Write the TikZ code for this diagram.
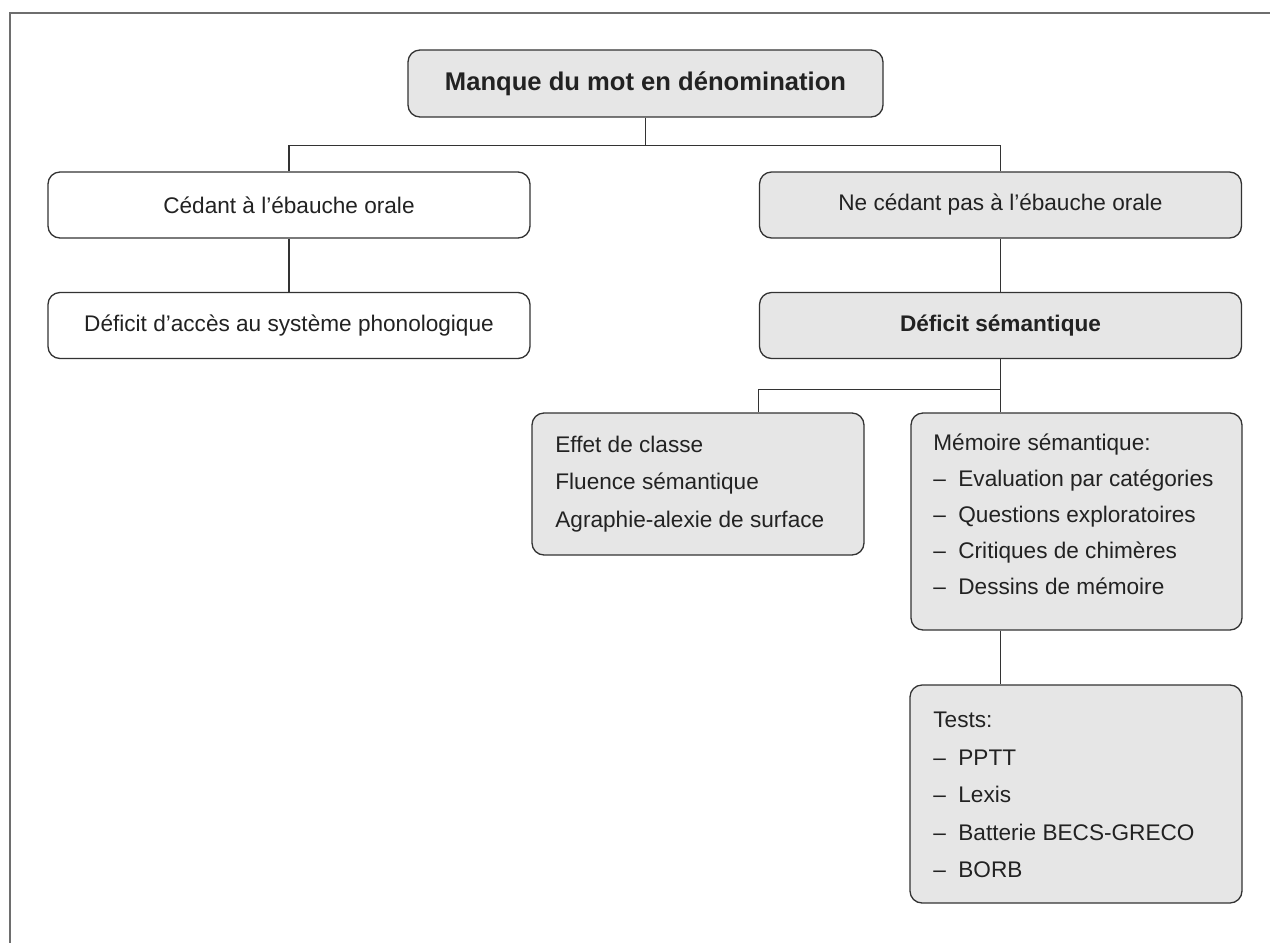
\documentclass[tikz,border=0pt]{standalone}
\usepackage{fontspec}
\setmainfont{Liberation Sans}
\usetikzlibrary{calc}
\definecolor{boxgray}{HTML}{E6E6E6}
\definecolor{linec}{HTML}{333333}
\definecolor{framec}{HTML}{6E6E6E}
\definecolor{txt}{HTML}{222222}
\newcommand\listdash{\makebox[12.5pt][l]{–}}
\begin{document}
\begin{tikzpicture}[x=0.5pt,y=-0.5pt,
 box/.style={draw=linec, line width=0.65pt, rounded corners=6pt, inner sep=0pt, text=txt, font=\fontsize{11.3}{13.5}\selectfont},
 graybox/.style={box, fill=boxgray},
 whitebox/.style={box, fill=white},
 wide/.style={minimum width=241pt, minimum height=33pt},
 conn/.style={draw=linec, line width=0.65pt},
 listtxt/.style={anchor=west, inner sep=0pt, align=left, text=txt}]
\useasboundingbox (0,0) rectangle (1270,943);
\draw[framec, line width=0.8pt] (1270,13) -- (10,13) -- (10,943);

\node[graybox, minimum width=237.5pt, minimum height=33.5pt, font=\fontsize{12.8}{15}\selectfont\bfseries] (top) at (645.5,83.5) {Manque du mot en dénomination};
\node[whitebox, wide] (ced) at (289,205) {Cédant à l’ébauche orale};
\node[whitebox, wide] (phon) at (289,325.5) {Déficit d’accès au système phonologique};
\node[graybox, wide] (nec) at (1000.5,205) {Ne cédant pas à l’ébauche orale};
\node[graybox, wide, font=\fontsize{11.3}{13.5}\selectfont\bfseries] (sem) at (1000.5,325.5) {Déficit sémantique};

\node[graybox, minimum width=166pt, minimum height=71pt] (eff) at (698,484) {};
\node[graybox, minimum width=165.5pt, minimum height=108.5pt] (mem) at (1076.5,521.5) {};
\node[graybox, minimum width=166pt, minimum height=109pt] (tests) at (1076,794) {};

\node[listtxt, font=\fontsize{11.3}{18.6}\selectfont] (efftxt) at (555,484) {Effet de classe\\Fluence sémantique\\Agraphie-alexie de surface};
\node[listtxt, font=\fontsize{11.3}{18}\selectfont] (memtxt) at (933,514) {Mémoire sémantique:\\\listdash Evaluation par catégories\\\listdash Questions exploratoires\\\listdash Critiques de chimères\\\listdash Dessins de mémoire};
\node[listtxt, font=\fontsize{11.3}{18.75}\selectfont] (teststxt) at (933,795) {Tests:\\\listdash PPTT\\\listdash Lexis\\\listdash Batterie BECS-GRECO\\\listdash BORB};

\draw[conn] (top.south) -- ++(0,28) -| (ced.north);
\draw[conn] (top.south) -- ++(0,28) -| (nec.north);
\draw[conn] (ced.south) -- (phon.north);
\draw[conn] (nec.south) -- (sem.north);
\draw[conn] (sem.south) -- ++(0,30) -| ($(eff.north west)+(227,0)$);
\draw[conn] (sem.south) -- (sem.south |- mem.north);
\draw[conn] (sem.south |- mem.south) -- (sem.south |- tests.north);
\end{tikzpicture}
\end{document}
